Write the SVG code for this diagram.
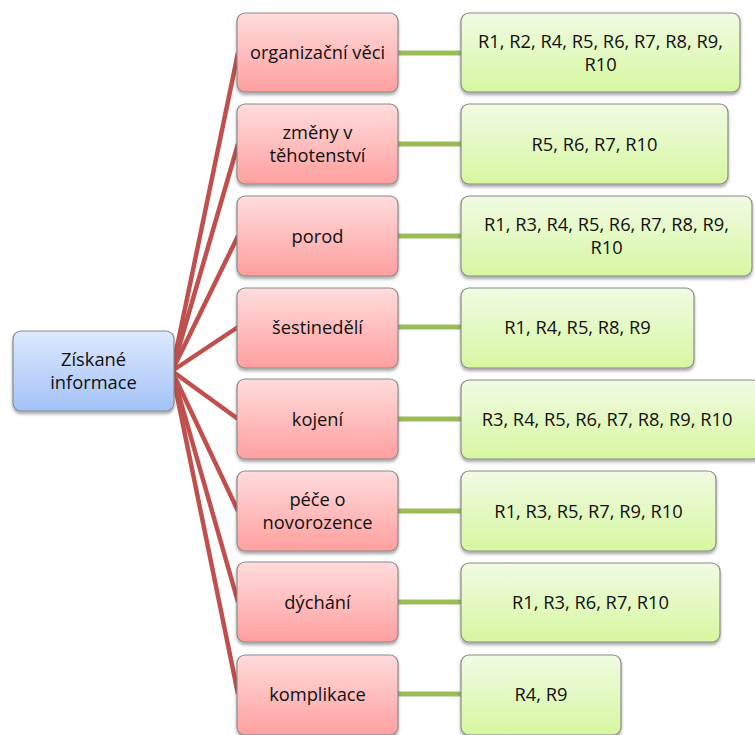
<svg xmlns="http://www.w3.org/2000/svg" width="755" height="735" viewBox="0 0 755 735">
  <defs>
    <linearGradient id="gBlue" x1="0" y1="0" x2="0" y2="1">
      <stop offset="0" stop-color="#dde9fd"/>
      <stop offset="1" stop-color="#a3c2f8"/>
    </linearGradient>
    <linearGradient id="gRed" x1="0" y1="0" x2="0" y2="1">
      <stop offset="0" stop-color="#ffdcdc"/>
      <stop offset="1" stop-color="#ff9f9f"/>
    </linearGradient>
    <linearGradient id="gGreen" x1="0" y1="0" x2="0" y2="1">
      <stop offset="0" stop-color="#f1fbe3"/>
      <stop offset="1" stop-color="#d6f7a0"/>
    </linearGradient>
    <filter id="shadow" x="-10%" y="-10%" width="120%" height="130%">
      <feDropShadow dx="0" dy="2.5" stdDeviation="1.6" flood-color="#000" flood-opacity="0.35"/>
    </filter>
  </defs>
  <style>
    .box { stroke: #8a8a8a; stroke-width: 1.2; filter: url(#shadow); }
    .root { fill: url(#gBlue); }
    .cat { fill: url(#gRed); }
    .res { fill: url(#gGreen); }
    .lbl { font-family: "Open Sans", "Liberation Sans", sans-serif; font-size: 18.3px; fill: #111; text-anchor: middle; }
    .redline { stroke: #c0504d; stroke-width: 4.5; fill: none; }
    .greenline { stroke: #9bbb59; stroke-width: 5; fill: none; }
  </style>

  <rect width="755" height="735" fill="#ffffff"/>

  <!-- connectors -->
  <g id="connectors">
    <path class="redline" d="M172 371 L238 53"/>
    <path class="redline" d="M172 371 L238 144"/>
    <path class="redline" d="M172 371 L238 236"/>
    <path class="redline" d="M172 371 L238 327"/>
    <path class="redline" d="M172 371 L238 419"/>
    <path class="redline" d="M172 371 L238 511"/>
    <path class="redline" d="M172 371 L238 602"/>
    <path class="redline" d="M172 371 L238 694"/>
    <path class="greenline" d="M398 53 L462 53"/>
    <path class="greenline" d="M398 144 L462 144"/>
    <path class="greenline" d="M398 236 L462 236"/>
    <path class="greenline" d="M398 327 L462 327"/>
    <path class="greenline" d="M398 419 L462 419"/>
    <path class="greenline" d="M398 511 L462 511"/>
    <path class="greenline" d="M398 602 L462 602"/>
    <path class="greenline" d="M398 694 L462 694"/>
  </g>

  <!-- root -->
  <g id="root">
    <rect class="box root" x="13" y="331" width="161" height="80" rx="8"/>
    <text class="lbl" x="93.5" y="366">Získané</text>
    <text class="lbl" x="93.5" y="389">informace</text>
  </g>

  <!-- categories -->
  <g id="cat1">
    <rect class="box cat" x="237" y="13" width="161" height="79" rx="8"/>
    <text class="lbl" x="317.5" y="59">organizační věci</text>
  </g>
  <g id="cat2">
    <rect class="box cat" x="237" y="104" width="161" height="80" rx="8"/>
    <text class="lbl" x="317.5" y="139">změny v</text>
    <text class="lbl" x="317.5" y="162">těhotenství</text>
  </g>
  <g id="cat3">
    <rect class="box cat" x="237" y="196" width="161" height="80" rx="8"/>
    <text class="lbl" x="317.5" y="243">porod</text>
  </g>
  <g id="cat4">
    <rect class="box cat" x="237" y="288" width="161" height="80" rx="8"/>
    <text class="lbl" x="317.5" y="334">šestinedělí</text>
  </g>
  <g id="cat5">
    <rect class="box cat" x="237" y="379" width="161" height="80" rx="8"/>
    <text class="lbl" x="317.5" y="426">kojení</text>
  </g>
  <g id="cat6">
    <rect class="box cat" x="237" y="471" width="161" height="80" rx="8"/>
    <text class="lbl" x="317.5" y="506">péče o</text>
    <text class="lbl" x="317.5" y="529">novorozence</text>
  </g>
  <g id="cat7">
    <rect class="box cat" x="237" y="562" width="161" height="80" rx="8"/>
    <text class="lbl" x="317.5" y="609">dýchání</text>
  </g>
  <g id="cat8">
    <rect class="box cat" x="237" y="655" width="161" height="80" rx="8"/>
    <text class="lbl" x="317.5" y="701">komplikace</text>
  </g>

  <!-- results -->
  <g id="res1">
    <rect class="box res" x="461" y="13" width="279" height="79" rx="8"/>
    <text class="lbl" x="600.5" y="48">R1, R2, R4, R5, R6, R7, R8, R9,</text>
    <text class="lbl" x="600.5" y="71">R10</text>
  </g>
  <g id="res2">
    <rect class="box res" x="461" y="104" width="267" height="80" rx="8"/>
    <text class="lbl" x="594.5" y="151">R5, R6, R7, R10</text>
  </g>
  <g id="res3">
    <rect class="box res" x="461" y="196" width="291" height="80" rx="8"/>
    <text class="lbl" x="606.5" y="231">R1, R3, R4, R5, R6, R7, R8, R9,</text>
    <text class="lbl" x="606.5" y="254">R10</text>
  </g>
  <g id="res4">
    <rect class="box res" x="461" y="288" width="233" height="80" rx="8"/>
    <text class="lbl" x="577.5" y="334">R1, R4, R5, R8, R9</text>
  </g>
  <g id="res5">
    <rect class="box res" x="461" y="380" width="300" height="79" rx="8"/>
    <text class="lbl" x="607" y="426">R3, R4, R5, R6, R7, R8, R9, R10</text>
  </g>
  <g id="res6">
    <rect class="box res" x="461" y="471" width="255" height="80" rx="8"/>
    <text class="lbl" x="588.5" y="518">R1, R3, R5, R7, R9, R10</text>
  </g>
  <g id="res7">
    <rect class="box res" x="461" y="563" width="259" height="79" rx="8"/>
    <text class="lbl" x="590.5" y="609">R1, R3, R6, R7, R10</text>
  </g>
  <g id="res8">
    <rect class="box res" x="461" y="655" width="160" height="80" rx="8"/>
    <text class="lbl" x="541" y="701">R4, R9</text>
  </g>
</svg>
